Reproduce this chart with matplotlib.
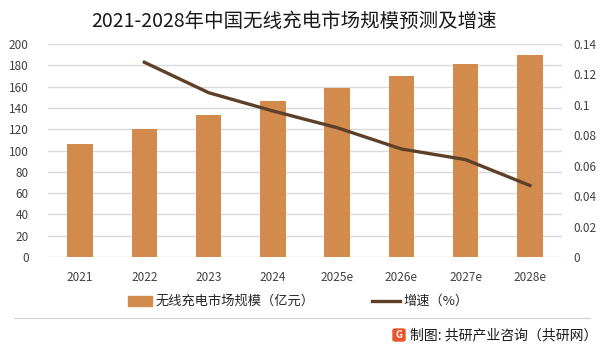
import matplotlib
matplotlib.use("Agg")
import matplotlib.pyplot as plt
from matplotlib.patches import FancyBboxPatch, Rectangle
from matplotlib.lines import Line2D
import numpy as np

plt.rcParams['font.family'] = ['Noto Sans CJK SC', 'DejaVu Sans']

years = ["2021", "2022", "2023", "2024", "2025e", "2026e", "2027e", "2028e"]
market_size = [106.1, 120.2, 133.3, 146.5, 158.7, 170.0, 181.2, 189.7]
growth = [None, 0.128, 0.108, 0.096, 0.085, 0.071, 0.064, 0.047]
left_ticks = list(range(0, 201, 20))
right_ticks = [0, 0.02, 0.04, 0.06, 0.08, 0.1, 0.12, 0.14]
right_tick_labels = ["0", "0.02", "0.04", "0.06", "0.08", "0.1", "0.12", "0.14"]

bar_color = "#D38A4D"
line_color = "#5C4029"
grid_color = "#D9D9D9"
tick_color = "#404040"

W, H = 602, 348
fig = plt.figure(figsize=(W / 100, H / 100), dpi=100)
fig.patch.set_facecolor("white")

ax = fig.add_axes([48 / W, (H - 257) / H, 514 / W, 213 / H])
ax.set_facecolor("none")
x = np.arange(len(years))
ax.bar(x, market_size, width=0.4, color=bar_color, zorder=2)
ax.set_ylim(0, 200)
ax.set_xlim(-0.5, len(years) - 0.5)
ax.set_yticks(left_ticks)
ax.set_yticklabels([str(v) for v in left_ticks])
ax.set_xticks(x)
ax.set_xticklabels(years)
ax.grid(axis="y", color=grid_color, linewidth=1, zorder=0)
for s in ax.spines.values():
    s.set_visible(False)
ax.tick_params(axis="both", length=0, labelsize=8.5, colors=tick_color)
ax.tick_params(axis="x", pad=10)
ax.tick_params(axis="y", pad=14)

ax2 = ax.twinx()
gx = [i for i, g in enumerate(growth) if g is not None]
gy = [g for g in growth if g is not None]
ax2.plot(gx, gy, color=line_color, linewidth=2.4, zorder=3)
ax2.set_ylim(0, 0.14)
ax2.set_yticks(right_ticks)
ax2.set_yticklabels(right_tick_labels)
for s in ax2.spines.values():
    s.set_visible(False)
ax2.tick_params(axis="y", length=0, labelsize=8.5, colors=tick_color, pad=8)

fig.text(0.488, 1 - 21 / H, "2021-2028年中国无线充电市场规模预测及增速",
         fontsize=14, color="#1a1a1a", ha="center", va="center")

# legend
ly = 1 - 301 / H
fig.patches.append(Rectangle((128 / W, ly - 5 / H), 24 / W, 10 / H,
                             transform=fig.transFigure, color=bar_color))
fig.text(156 / W, ly, "无线充电市场规模（亿元）", fontsize=9.5, color="#262626",
         ha="left", va="center")
fig.lines.append(Line2D([372 / W, 400 / W], [ly, ly], transform=fig.transFigure,
                        color=line_color, linewidth=2.4))
fig.text(403 / W, ly, "增速（%）", fontsize=9.5, color="#262626",
         ha="left", va="center")

# separator and source line
fig.lines.append(Line2D([14 / W, 590 / W], [1 - 318 / H, 1 - 318 / H],
                        transform=fig.transFigure, color="#D0D0D0", linewidth=0.8))
fy = 1 - 335 / H
fig.patches.append(FancyBboxPatch((393 / W, fy - 6 / H), 12 / W, 12 / H,
                                  boxstyle="round,pad=0,rounding_size=0.004",
                                  transform=fig.transFigure,
                                  color="#E8542B"))
fig.text(399 / W, fy, "G", fontsize=7, fontweight="bold", color="white",
         ha="center", va="center")
fig.text(410 / W, fy, "制图: 共研产业咨询（共研网）", fontsize=10, color="#1a1a1a",
         ha="left", va="center")

fig.savefig("out.png", dpi=100, facecolor="white")
